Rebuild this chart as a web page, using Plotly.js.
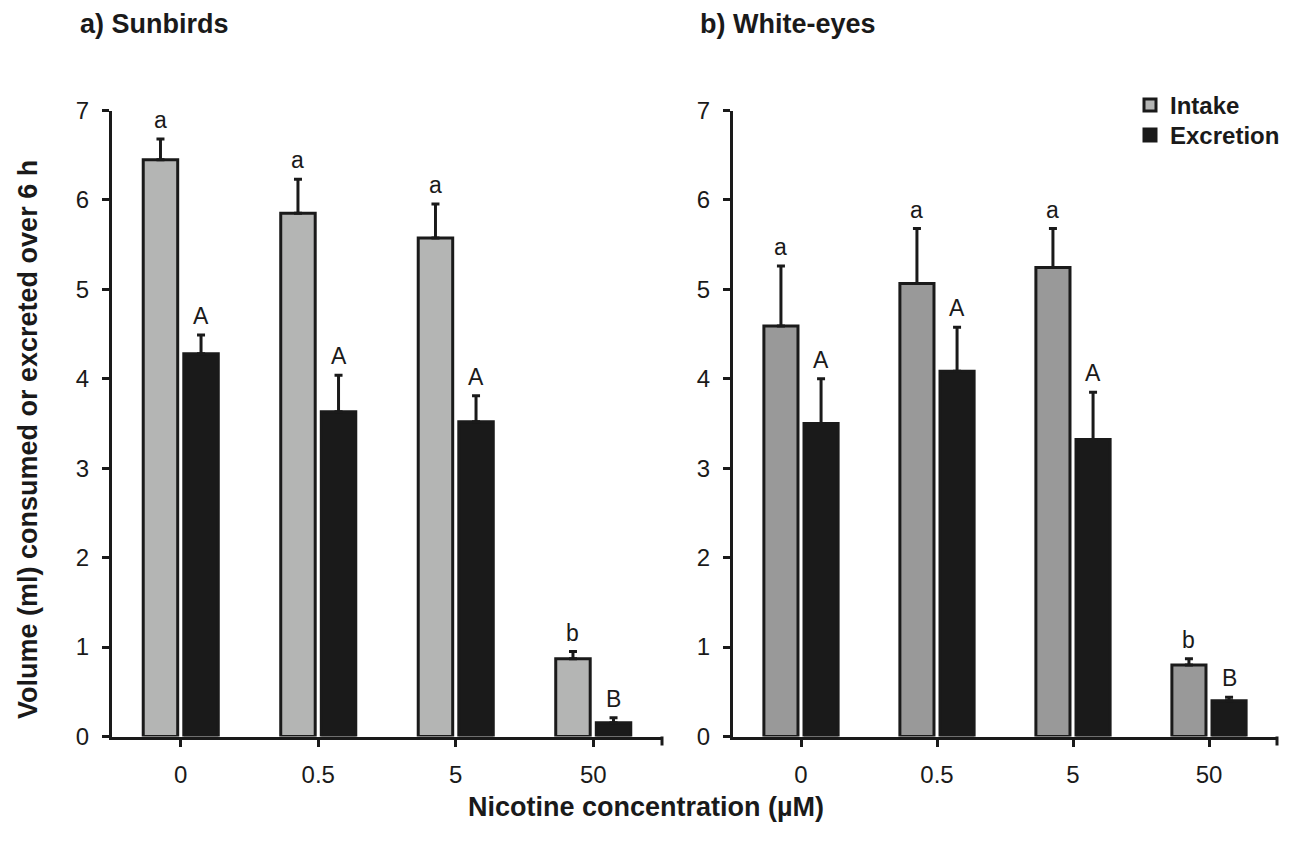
<!DOCTYPE html>
<html>
<head>
<meta charset="utf-8">
<script src="https://cdn.plot.ly/plotly-3.0.1.min.js"></script>
<style>html,body{margin:0;padding:0;background:#fff;}#chart{width:1293px;height:856px;}</style>
</head>
<body>
<div id="chart"></div>
<script>
const categories = ['0', '0.5', '5', '50'];

const sunIntake = [6.45, 5.85, 5.575, 0.87];
const sunIntakeErr = [0.23, 0.38, 0.38, 0.08];
const sunExcretion = [4.28, 3.63, 3.52, 0.155];
const sunExcretionErr = [0.21, 0.41, 0.29, 0.055];

const whiteIntake = [4.59, 5.065, 5.245, 0.80];
const whiteIntakeErr = [0.67, 0.615, 0.435, 0.07];
const whiteExcretion = [3.50, 4.085, 3.32, 0.40];
const whiteExcretionErr = [0.50, 0.49, 0.53, 0.04];

const intakeLetters = ['a', 'a', 'a', 'b'];
const excretionLetters = ['A', 'A', 'A', 'B'];

const seriesNames = ['Intake', 'Excretion'];
const panelTitles = ['a) Sunbirds', 'b) White-eyes'];
const xTitle = 'Nicotine concentration (µM)';
const yTitle = 'Volume (ml) consumed or excreted over 6 h';

const dark = '#1a1a1a';
const FONT = 'Liberation Sans, Arial, sans-serif';
const bargap = 0.41;

function barTrace(name, y, err, color, xa, ya, legendRef) {
  const t = {
    type: 'bar', name: name, x: categories, y: y, xaxis: xa, yaxis: ya,
    showlegend: !!legendRef, legendgroup: name,
    marker: {color: color, line: {color: dark, width: 3}},
    error_y: {type: 'data', array: err, arrayminus: err.map(() => 0), symmetric: false,
              color: dark, thickness: 3, width: 4}
  };
  if (legendRef) t.legend = legendRef;
  return t;
}

const data = [
  barTrace(seriesNames[0], sunIntake, sunIntakeErr, '#b4b5b4', 'x', 'y', 'legend'),
  barTrace(seriesNames[1], sunExcretion, sunExcretionErr, dark, 'x', 'y', 'legend2'),
  barTrace(seriesNames[0], whiteIntake, whiteIntakeErr, '#999999', 'x2', 'y2', null),
  barTrace(seriesNames[1], whiteExcretion, whiteExcretionErr, dark, 'x2', 'y2', null)
];

const off = (1 - bargap) / 4;
const annotations = [];
function addLetters(vals, errs, letters, shift, xr, yr) {
  vals.forEach((v, i) => {
    annotations.push({
      x: i + shift, y: v + errs[i], xref: xr, yref: yr, text: letters[i],
      showarrow: false, yanchor: 'bottom', yshift: 4,
      font: {family: FONT, size: 23, color: dark}
    });
  });
}
addLetters(sunIntake, sunIntakeErr, intakeLetters, -off, 'x', 'y');
addLetters(sunExcretion, sunExcretionErr, excretionLetters, off, 'x', 'y');
addLetters(whiteIntake, whiteIntakeErr, intakeLetters, -off, 'x2', 'y2');
addLetters(whiteExcretion, whiteExcretionErr, excretionLetters, off, 'x2', 'y2');

const W = 1293, H = 856;
annotations.push({xref: 'paper', yref: 'paper', x: 78 / W, y: 1 - 24 / H, xanchor: 'left', yanchor: 'middle',
  text: panelTitles[0], showarrow: false, font: {family: FONT, size: 27, weight: 'bold', color: dark}});
annotations.push({xref: 'paper', yref: 'paper', x: 698 / W, y: 1 - 24 / H, xanchor: 'left', yanchor: 'middle',
  text: panelTitles[1], showarrow: false, font: {family: FONT, size: 27, weight: 'bold', color: dark}});
annotations.push({xref: 'paper', yref: 'paper', x: 646 / W, y: 1 - 807 / H, xanchor: 'center', yanchor: 'middle',
  text: xTitle, showarrow: false, font: {family: FONT, size: 27, weight: 'bold', color: dark}});
annotations.push({xref: 'paper', yref: 'paper', x: 28 / W, y: 1 - 440 / H, xanchor: 'center', yanchor: 'middle',
  text: yTitle, textangle: -90, showarrow: false, font: {family: FONT, size: 27, weight: 'bold', color: dark}});

function xAxis(domain, anchor) {
  return {
    domain: domain, anchor: anchor, type: 'category', range: [-0.5, 3.5],
    showline: true, linecolor: dark, linewidth: 3, ticks: 'outside', ticklen: 7, tickwidth: 3,
    tickcolor: dark, showgrid: false, zeroline: false, fixedrange: true,
    tickfont: {family: FONT, size: 24, color: dark}, ticklabelstandoff: 8
  };
}
function yAxis(domain, anchor) {
  return {
    domain: domain, anchor: anchor, range: [0, 7], dtick: 1, tick0: 0,
    showline: true, linecolor: dark, linewidth: 3, ticks: 'outside', ticklen: 7, tickwidth: 3,
    tickcolor: dark, showgrid: false, zeroline: false, fixedrange: true,
    tickfont: {family: FONT, size: 24, color: dark}, ticklabelstandoff: 8
  };
}

const yDom = [(H - 736.5) / H, (H - 110.5) / H];
const xDom1 = [112 / W, 662 / W];
const xDom2 = [733 / W, 1277 / W];

// small tick marks at the right end of each category axis (axis decoration)
const endTick = (xd) => ({type: 'line', xref: 'paper', yref: 'paper', x0: xd[1], x1: xd[1],
  y0: yDom[0], y1: yDom[0] - 9 / H, line: {color: dark, width: 3}});

const legendBase = (topPx) => ({x: 1130 / W, y: 1 - topPx / H, xanchor: 'left', yanchor: 'top',
  bgcolor: 'rgba(0,0,0,0)', font: {family: FONT, size: 24, weight: 'bold', color: dark}, itemwidth: 30});

const layout = {
  width: W, height: H,
  margin: {l: 0, r: 0, t: 0, b: 0},
  paper_bgcolor: '#ffffff', plot_bgcolor: 'rgba(0,0,0,0)',
  barmode: 'group', bargap: bargap, bargroupgap: 0.15,
  showlegend: true,
  legend: legendBase(83),
  legend2: legendBase(113),
  xaxis: xAxis(xDom1, 'y'),
  yaxis: yAxis(yDom, 'x'),
  xaxis2: xAxis(xDom2, 'y2'),
  yaxis2: yAxis(yDom, 'x2'),
  shapes: [endTick(xDom1), endTick(xDom2)],
  annotations: annotations
};

Plotly.newPlot('chart', data, layout, {displayModeBar: false, staticPlot: true});
</script>
</body>
</html>
